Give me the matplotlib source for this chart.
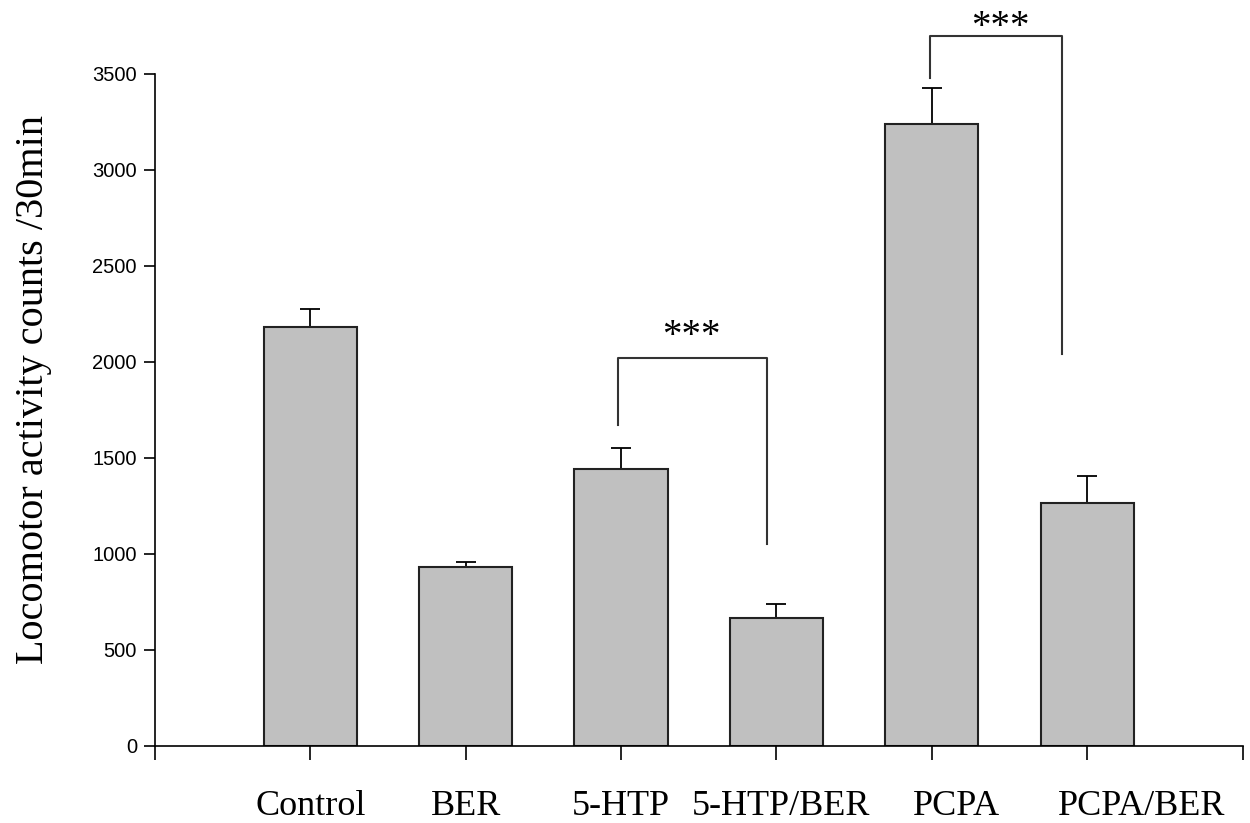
import numpy as np
import matplotlib.pyplot as plt

# Data
groups = ['Control', 'BER', '5-HTP', '5-HTP/BER', 'PCPA', 'PCPA/BER']
means = [2180, 932, 1440, 667, 3240, 1266]
sem = [95, 27, 113, 73, 187, 140]

# significance brackets: (left x, right x, top, left leg bottom, right leg bottom)
brackets = [(2.98, 3.94, 2021, 1672, 1052), (4.99, 5.84, 3698, 3479, 2042)]
stars = ['***', '***']
star_x = [3.45, 5.44]
star_y = [2036, 3646]

fig = plt.figure(figsize=(12.5, 8.23), dpi=100)
ax = fig.add_axes([0.124, 0.0936, 0.87, 0.8165])

x = np.arange(1, len(groups) + 1)
ax.bar(x, means, width=0.6, color='#c0c0c0', edgecolor='#222222', linewidth=1.5, zorder=2)
ax.errorbar(x, means, yerr=[np.zeros(len(sem)), sem], fmt='none', ecolor='black',
            elinewidth=1.3, capsize=7, capthick=1.3, zorder=1)

ax.set_xlim(0, 7)
ax.set_ylim(0, 3500)
ax.set_yticks(np.arange(0, 3501, 500))
ax.set_xticks(np.arange(0, 8))
ax.set_xticklabels([])
ax.tick_params(axis='y', labelsize=14.5, length=8, width=1.2, pad=5)
ax.tick_params(axis='x', length=10, width=1.2)
for t in ax.get_yticklabels():
    t.set_family('Liberation Sans')

for s in ['top', 'right']:
    ax.spines[s].set_visible(False)
for s in ['left', 'bottom']:
    ax.spines[s].set_linewidth(1.2)

# group labels below the axis
label_x = [1.0, 2.0, 3.0, 4.03, 5.16, 6.35]
for lx, g in zip(label_x, groups):
    ax.text(lx, -359, g, ha='center', va='baseline', fontsize=26,
            family='Liberation Serif', clip_on=False)

ax.set_ylabel('Locomotor activity counts /30min', fontsize=29,
              family='Liberation Serif')
ax.yaxis.set_label_coords(-0.095, 0.53)

# brackets
for (xl, xr, top, bl, br) in brackets:
    ax.plot([xl, xl, xr, xr], [bl, top, top, br], color='#333333', lw=1.5, clip_on=False)
for sx, sy, st in zip(star_x, star_y, stars):
    ax.text(sx, sy, st, ha='center', va='bottom', fontsize=28,
            family='Liberation Serif', clip_on=False)

fig.savefig('out.png', dpi=100)
